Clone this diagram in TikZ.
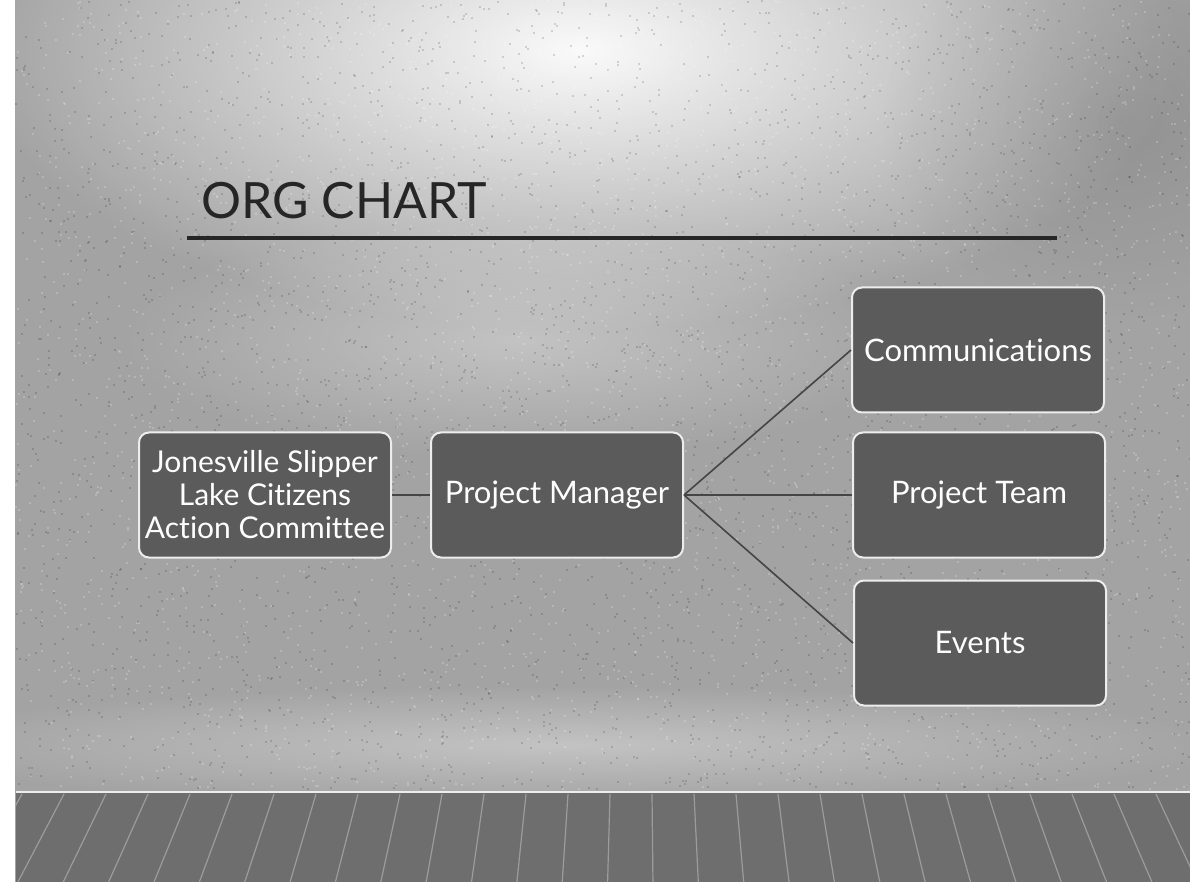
\documentclass[tikz,border=0pt]{standalone}
\usepackage{fontspec}
\setmainfont{Lato}[Ligatures=NoCommon]
\usetikzlibrary{fadings}
\tikzfading[name=glowfade, inner color=transparent!0, outer color=transparent!100]
\definecolor{bggray}{HTML}{A3A3A3}
\definecolor{boxfill}{HTML}{5B5B5B}
\definecolor{boxline}{HTML}{EDEDED}
\definecolor{linkgray}{HTML}{454545}
\definecolor{titlegray}{HTML}{262626}
\definecolor{floorgray}{HTML}{6E6E6E}
\definecolor{plankgray}{HTML}{9C9C9C}
\tikzset{
  orgbox/.style={draw=boxline, line width=1pt, fill=boxfill, rounded corners=5pt,
    minimum width=126pt, minimum height=62.5pt, inner sep=1pt, align=center,
    text=white, font=\fontsize{15.5}{16.5}\selectfont},
  link/.style={draw=linkgray, line width=0.8pt},
  plank/.style={draw=plankgray, line width=0.6pt},
  speckdark/.style={fill=black, opacity=0.14},
  specklight/.style={fill=white, opacity=0.2}
}
\begin{document}
\begin{tikzpicture}[x=0.5pt,y=-0.5pt]
\useasboundingbox (0,0) rectangle (1190,882);
% background
\fill[bggray] (0,0) rectangle (1190,882);
\fill[white, opacity=0.95, path fading=glowfade] (580,50) ellipse [x radius=300pt, y radius=140pt];
\fill[white, opacity=0.35, path fading=glowfade] (520,340) ellipse [x radius=200pt, y radius=60pt];
\fill[white, opacity=0.35, path fading=glowfade] (560,745) ellipse [x radius=340pt, y radius=30pt];
\fill[black, opacity=0.10, path fading=glowfade] (1120,120) ellipse [x radius=120pt, y radius=100pt];
% speckle
\pgfmathsetseed{7}
\foreach \i in {1,...,3500}{
  \pgfmathsetmacro\xx{15+rnd*1175}
  \pgfmathsetmacro\yy{rnd*788}
  \fill[speckdark] (\xx,\yy) rectangle ++(2,2);
}
\foreach \i in {1,...,3000}{
  \pgfmathsetmacro\xx{15+rnd*1175}
  \pgfmathsetmacro\yy{rnd*788}
  \fill[specklight] (\xx,\yy) rectangle ++(2,2);
}
% floor
\fill[floorgray] (16,792) rectangle (1190,882);
\begin{scope}
  \clip (16,792) rectangle (1190,882);
  \foreach \t in {22,64,...,1190}{
    \draw[plank] (\t,794) -- ({\t+(\t-640)*0.08},882);
  }
\end{scope}
\draw[boxline, line width=1.2pt] (16,792) -- (1190,792);
% left white strip
\fill[white] (0,0) rectangle (15,882);
% title
\node[anchor=base west, inner sep=0pt, text=titlegray, font=\fontsize{25}{30}\selectfont] (title) at (201,219) {ORG CHART};
\coordinate (ruleL) at (187,238);
\coordinate (ruleR) at (1057,238);
\draw[titlegray, line width=1.6pt] (ruleL) -- (ruleR);
% nodes
\node[orgbox, font=\fontsize{15}{16.5}\selectfont] (jon) at (265,495) {Jonesville Slipper\\Lake Citizens\\Action Committee};
\node[orgbox] (pm) at (557,495) {Project Manager};
\node[orgbox] (comm) at (978,350) {Communications};
\node[orgbox] (team) at (979,495) {Project Team};
\node[orgbox] (events) at (980,643) {Events};
% connectors
\draw[link] (jon.east) -- (pm.west);
\draw[link] (pm.east) -- (comm.west);
\draw[link] (pm.east) -- (team.west);
\draw[link] (pm.east) -- (events.west);
\end{tikzpicture}
\end{document}
